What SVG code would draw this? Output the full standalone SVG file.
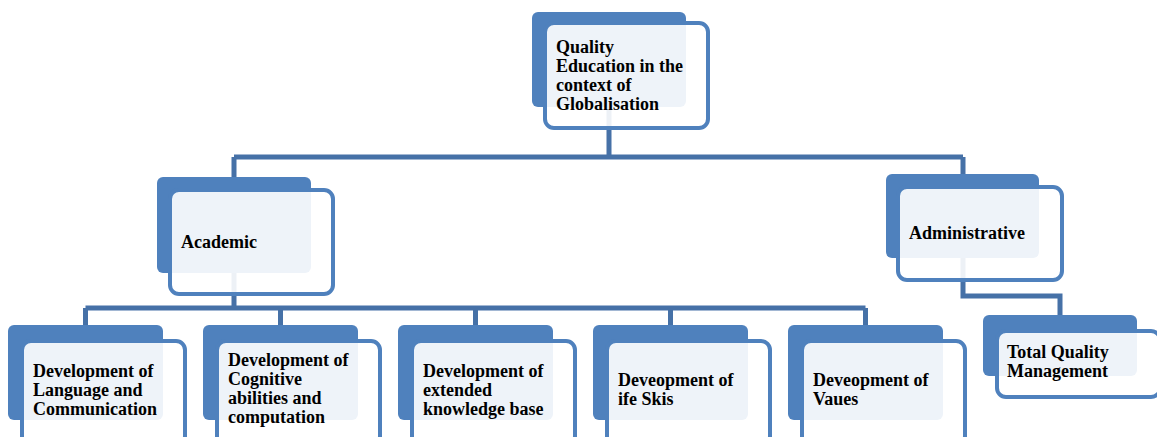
<svg xmlns="http://www.w3.org/2000/svg" width="1157" height="437" viewBox="0 0 1157 437">
<style>
.conn{fill:none;stroke:#4671A7;stroke-width:5;stroke-linejoin:miter;stroke-linecap:butt}
.back{fill:#4F81BD}
.front{fill:#ffffff;fill-opacity:0.9;stroke:#4F81BD;stroke-width:4}
text{font-family:"Liberation Serif","Times New Roman",serif;font-weight:bold;font-size:18px;fill:#000}
</style>
<rect width="1157" height="437" fill="#ffffff"/>
<g id="connectors">
<path class="conn" d="M609,100 V157 M234,157 H963 M234,157 V180 M963,157 V178"/>
<path class="conn" d="M234,270 V308 M85.5,308 H865.5 M85.5,308 V327 M280.5,308 V327 M475.5,308 V327 M670.5,308 V327 M865.5,308 V327"/>
<path class="conn" d="M963,255 V296 H1060 V317"/>
</g>
<g id="n-quality">
<rect class="back" x="532" y="12" width="154" height="95" rx="6"/>
<rect class="front" x="545" y="23" width="163" height="105" rx="9"/>
<text x="556"><tspan x="556" y="53">Quality</tspan><tspan x="556" y="72">Education in the</tspan><tspan x="556" y="91">context of</tspan><tspan x="556" y="110">Globalisation</tspan></text>
</g>
<g id="n-academic">
<rect class="back" x="157" y="177" width="154" height="96" rx="6"/>
<rect class="front" x="170" y="190" width="163" height="104" rx="9"/>
<text x="181" y="248">Academic</text>
</g>
<g id="n-administrative">
<rect class="back" x="886" y="174" width="153" height="84" rx="6"/>
<rect class="front" x="898" y="187" width="164" height="93" rx="9"/>
<text x="909" y="239">Administrative</text>
</g>
<g id="n-tqm">
<rect class="back" x="983" y="315" width="154" height="61" rx="6"/>
<rect class="front" x="997" y="331" width="163" height="66" rx="9"/>
<text><tspan x="1007" y="358">Total Quality</tspan><tspan x="1007" y="377">Management</tspan></text>
</g>
<g id="n-language">
<rect class="back" x="8" y="325" width="155" height="95" rx="6"/>
<rect class="front" x="22" y="341" width="163" height="104" rx="9"/>
<text><tspan x="33" y="377">Development of</tspan><tspan x="33" y="396">Language and</tspan><tspan x="33" y="415">Communication</tspan></text>
</g>
<g id="n-cognitive">
<rect class="back" x="203" y="325" width="155" height="95" rx="6"/>
<rect class="front" x="217" y="341" width="163" height="104" rx="9"/>
<text><tspan x="228" y="366">Development of</tspan><tspan x="228" y="385">Cognitive</tspan><tspan x="228" y="404">abilities and</tspan><tspan x="228" y="423">computation</tspan></text>
</g>
<g id="n-knowledge">
<rect class="back" x="398" y="325" width="155" height="95" rx="6"/>
<rect class="front" x="412" y="341" width="163" height="104" rx="9"/>
<text><tspan x="423" y="377">Development of</tspan><tspan x="423" y="396">extended</tspan><tspan x="423" y="415">knowledge base</tspan></text>
</g>
<g id="n-lifeskills">
<rect class="back" x="593" y="325" width="155" height="95" rx="6"/>
<rect class="front" x="607" y="341" width="163" height="104" rx="9"/>
<text><tspan x="618" y="386">Deveopment of</tspan><tspan x="618" y="405">ife Skis</tspan></text>
</g>
<g id="n-values">
<rect class="back" x="788" y="325" width="155" height="95" rx="6"/>
<rect class="front" x="802" y="341" width="163" height="104" rx="9"/>
<text><tspan x="813" y="386">Deveopment of</tspan><tspan x="813" y="405">Vaues</tspan></text>
</g>
</svg>
